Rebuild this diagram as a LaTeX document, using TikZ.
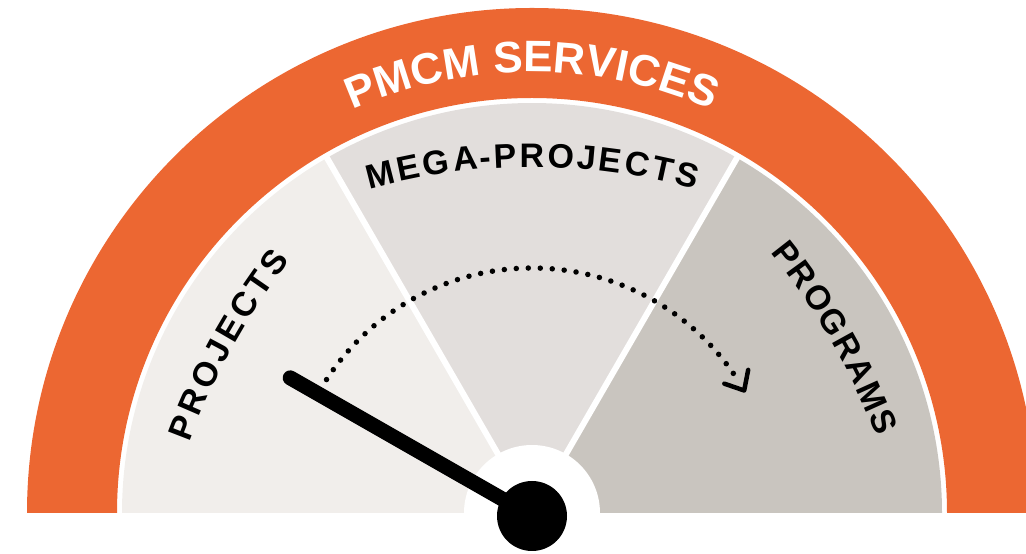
\documentclass[tikz,border=0pt]{standalone}
\usepackage{fontspec}
\setmainfont{Liberation Sans}
\usetikzlibrary{decorations.text}
\definecolor{gorange}{RGB}{236,103,50}
\definecolor{secA}{RGB}{241,238,235}
\definecolor{secB}{RGB}{226,222,220}
\definecolor{secC}{RGB}{201,197,191}
\newcommand\gtitlefont{\fontsize{44}{50}\selectfont\bfseries}
\newcommand\glabelfont{\fontsize{34}{40}\selectfont\bfseries}
\tikzset{
  arclabel/.style={decorate, decoration={text effects along path, text={#1}, text effects/.cd, text along path, fit text to path, characters={text=black, font=\glabelfont}}},
  arctitle/.style={decorate, decoration={text along path, text align=center, text color=white, text={|\gtitlefont|#1}}},
  divider/.style={white, line width=6},
}
\begin{document}
\begin{tikzpicture}[x=1pt,y=1pt]
\useasboundingbox (0,0) rectangle (1026,554);
\begin{scope}[shift={(532,41)}]
\coordinate (c) at (0,0);
% orange ring
\fill[gorange] (0:505) arc[start angle=0,end angle=180,radius=505] -- (180:415) arc[start angle=180,end angle=0,radius=415] -- cycle;
% sectors
\fill[secC] (c) -- (0:410) arc[start angle=0,end angle=60,radius=410] -- cycle;
\fill[secB] (c) -- (60:410) arc[start angle=60,end angle=120,radius=410] -- cycle;
\fill[secA] (c) -- (120:410) arc[start angle=120,end angle=180,radius=410] -- cycle;
\coordinate (d1) at (60:413);
\coordinate (d2) at (120:413);
\draw[divider] (c) -- (d1);
\draw[divider] (c) -- (d2);
\fill[white] (0:68) arc[start angle=0,end angle=180,radius=68] -- cycle;
% texts
\path[arctitle={PMCM SERVICES}] (150:441) arc[start angle=150,end angle=30,radius=441];
\path[arclabel={MEGA-PROJECTS}] ([shift={(0,-254)}]105.75:600) arc[start angle=105.75,end angle=74.25,radius=600];
\path[arclabel={PROJECTS}] ([shift={(-29:338)}]159.8:680) arc[start angle=159.8,end angle=142.2,radius=680];
\path[arclabel={PROGRAMS}] ([shift={(-150:335)}]39:680) arc[start angle=39,end angle=21,radius=680];
% dotted arc
\draw[black, line width=5.5, line cap=round, dash pattern=on 0pt off 12pt] (147:245) arc[start angle=147,end angle=32,radius=245];
\coordinate (tip) at (30:245);
\draw[line width=4.5, line cap=round, line join=round] (tip) ++(161:21) -- (tip) -- ++(79:21);
% needle
\node[circle, fill=black, minimum size=70, inner sep=0pt] (piv) at (0,-3) {};
\coordinate (ne) at (150.8:277);
\draw[line width=15, line cap=round] (piv.center) -- (ne);
\end{scope}
\end{tikzpicture}
\end{document}
